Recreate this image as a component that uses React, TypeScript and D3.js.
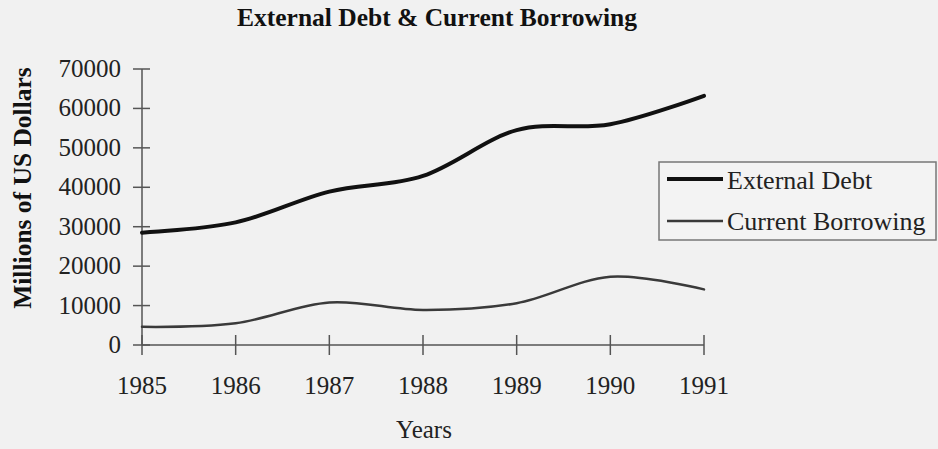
import React from "react";
import * as d3 from "d3";

const years = [1985, 1986, 1987, 1988, 1989, 1990, 1991];
const externalDebt = [28500, 31100, 38900, 42900, 54500, 56000, 63200];
const currentBorrowing = [4600, 5500, 10800, 8900, 10600, 17300, 14100];
const yTicks = [0, 10000, 20000, 30000, 40000, 50000, 60000, 70000];
const seriesNames = ["External Debt", "Current Borrowing"];
const title = "External Debt & Current Borrowing";
const xTitle = "Years";
const yTitle = "Millions of US Dollars";

const W = 938;
const H = 449;
const FONT = "'Liberation Serif', 'Times New Roman', serif";

export default function App() {
  const x = d3.scaleLinear().domain([1985, 1991]).range([142, 704]);
  const y = d3.scaleLinear().domain([0, 70000]).range([345, 69]);
  const line = d3
    .line<number>()
    .x((_, i) => x(years[i]))
    .y((d) => y(d))
    .curve(d3.curveCardinal.tension(0));

  const series = [
    { name: seriesNames[0], values: externalDebt, color: "#111", width: 4 },
    { name: seriesNames[1], values: currentBorrowing, color: "#3a3a3a", width: 2.5 },
  ];

  return (
    <svg
      width={W}
      height={H}
      style={{ position: "absolute", left: 0, top: 0, background: "#f1f1f1" }}
      fontFamily={FONT}
    >
      <rect x={0} y={0} width={W} height={H} fill="#f1f1f1" />
      <text x={437} y={26} textAnchor="middle" fontSize={25.5} fontWeight="bold" fill="#111">
        {title}
      </text>
      <text
        transform={`translate(31,188) rotate(-90)`}
        textAnchor="middle"
        fontSize={25.5}
        fontWeight="bold"
        fill="#111"
      >
        {yTitle}
      </text>
      <text x={424} y={438} textAnchor="middle" fontSize={25} fill="#222">
        {xTitle}
      </text>

      {/* axes */}
      <line x1={x(1985)} x2={x(1985)} y1={y(70000)} y2={y(0)} stroke="#555" strokeWidth={1.5} />
      <line x1={x(1985)} x2={x(1991)} y1={y(0)} y2={y(0)} stroke="#555" strokeWidth={1.5} />
      {yTicks.map((t) => (
        <g key={"y" + t}>
          <line x1={x(1985) - 9} x2={x(1985) + 8} y1={y(t)} y2={y(t)} stroke="#555" strokeWidth={1.5} />
          <text x={121} y={y(t) + 8} textAnchor="end" fontSize={25} fill="#222">
            {t}
          </text>
        </g>
      ))}
      {years.map((yr) => (
        <g key={"x" + yr}>
          <line x1={x(yr)} x2={x(yr)} y1={y(0) - 10} y2={y(0) + 10} stroke="#555" strokeWidth={1.5} />
          <text x={x(yr)} y={394} textAnchor="middle" fontSize={25} fill="#222">
            {yr}
          </text>
        </g>
      ))}

      {series.map((s) => (
        <path
          key={s.name}
          d={line(s.values) || ""}
          fill="none"
          stroke={s.color}
          strokeWidth={s.width}
          strokeLinecap="round"
        />
      ))}

      {/* legend */}
      <rect x={659} y={162} width={277} height={78} fill="#f3f3f3" stroke="#777" strokeWidth={1.5} />
      {series.map((s, i) => (
        <g key={"lg" + s.name}>
          <line x1={667} x2={723} y1={179 + i * 42} y2={179 + i * 42} stroke={s.color} strokeWidth={s.width} />
          <text x={727} y={189 + i * 41} fontSize={26} fill="#222">
            {s.name}
          </text>
        </g>
      ))}
    </svg>
  );
}
